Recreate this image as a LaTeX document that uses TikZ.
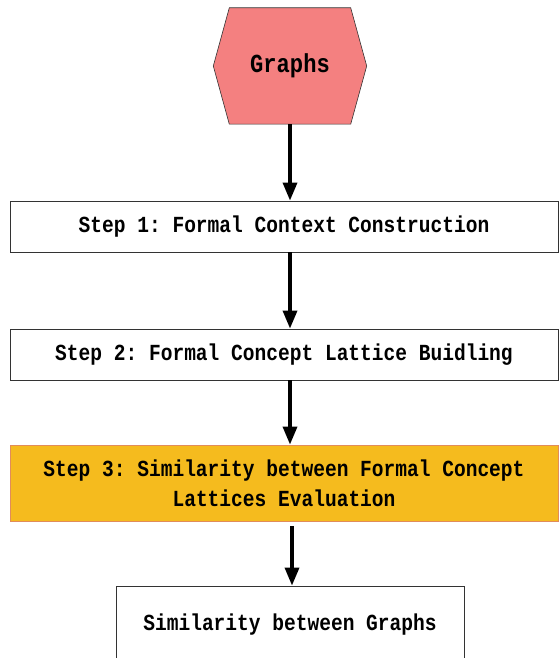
\documentclass[tikz,border=0pt]{standalone}
\usepackage{fontspec}
\setmonofont[FakeStretch=0.85]{Liberation Mono}
\usetikzlibrary{arrows.meta,positioning,calc}
\definecolor{hexred}{RGB}{244,128,128}
\definecolor{stepgold}{RGB}{245,187,30}
\definecolor{stepedge}{RGB}{225,140,90}

\begin{document}
\begin{tikzpicture}[
  x=1pt,y=1pt,
  box/.style={draw=black!80,line width=0.8pt,minimum height=51pt,align=center,
    font=\ttfamily\bfseries\fontsize{23}{30}\selectfont},
  hexbox/.style={minimum width=153pt,minimum height=116pt,inner sep=0pt,
    font=\ttfamily\bfseries\fontsize{26}{30}\selectfont},
  arr/.style={-{Triangle[length=18pt,width=14pt]},line width=3.4pt}
]
\useasboundingbox (0,0) rectangle (559,658);

% start: the input graphs
\node[hexbox] (graphs) at (290,592) {};
\filldraw[fill=hexred,draw=black!80,line width=0.6pt]
  (graphs.west) -- ($(graphs.north west)+(16,0)$) -- ($(graphs.north east)+(-16,0)$)
  -- (graphs.east) -- ($(graphs.south east)+(-16,0)$) -- ($(graphs.south west)+(16,0)$) -- cycle;
\node[hexbox] at (graphs.center) {Graphs};

% the three steps
\node[box,minimum width=548pt] (step1) at (284,431.5) {Step 1: Formal Context Construction};
\node[box,minimum width=548pt] (step2) at (284,303.5) {Step 2: Formal Concept Lattice Buidling};
\node[box,minimum width=548pt,minimum height=76pt,fill=stepgold,draw=stepedge] (step3) at (284,175)
  {Step 3: Similarity between Formal Concept\\Lattices Evaluation};

% result
\node[box,minimum width=348pt,minimum height=78pt] (result) at (290,33) {Similarity between Graphs};

\coordinate (a2) at ($(step1.south)+(6,0)$);
\coordinate (a3) at ($(step2.south)+(6,0)$);
\coordinate (a4) at ($(step3.south)+(8,0)$);
\draw[arr] (graphs.south) -- (graphs.south |- step1.north);
\draw[arr] (a2) -- (a2 |- step2.north);
\draw[arr] (a3) -- (a3 |- step3.north);
\draw[arr,shorten <=5pt] (a4) -- (a4 |- result.north);
\end{tikzpicture}
\end{document}
